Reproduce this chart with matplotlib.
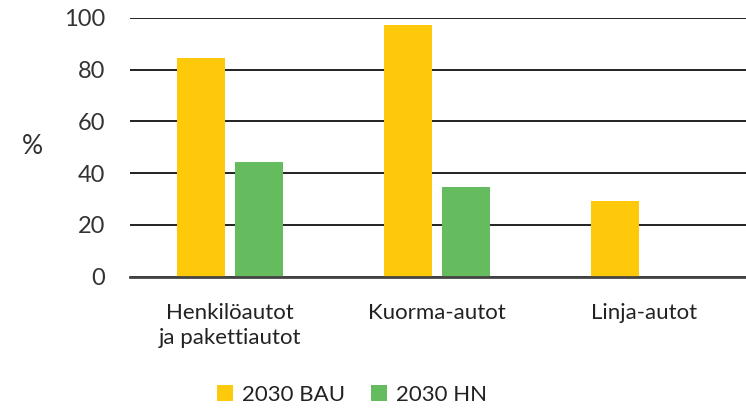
import matplotlib.pyplot as plt
import numpy as np

plt.rcParams['font.family'] = ['Lato', 'DejaVu Sans']

categories = ['Henkilöautot\nja pakettiautot', 'Kuorma-autot', 'Linja-autot']
bau = [84.5, 97.3, 29.3]
hn = [44.3, 34.7, 0]
series_names = ['2030 BAU', '2030 HN']
colors = ['#FEC90A', '#64BC5F']

W, H = 746, 411
fig = plt.figure(figsize=(W / 100, H / 100), dpi=100)
ax = fig.add_axes([130 / W, 1 - 276.7 / H, 616 / W, (276.7 - 18) / H])

x = np.arange(len(categories))
bw = 0.232
ax.bar(x - 0.14, bau, bw, color=colors[0], label=series_names[0], zorder=3)
ax.bar(x + 0.14, hn, bw, color=colors[1], label=series_names[1], zorder=3)

ax.set_xlim(-0.483, 2.493)
ax.set_ylim(0, 100)
ax.set_yticks(range(0, 101, 20))
ax.yaxis.grid(True, color='#222222', linewidth=1.4, zorder=1)
ax.tick_params(axis='y', length=0, pad=18, labelsize=17, labelcolor='#333333')
ax.tick_params(axis='x', length=0, pad=19, labelsize=16, labelcolor='#222222')
ax.set_xticks(x)
ax.set_xticklabels(categories, linespacing=1.3)
for s in ['top', 'right', 'left']:
    ax.spines[s].set_visible(False)
ax.spines['bottom'].set_color('#444444')
ax.spines['bottom'].set_linewidth(2)
ax.spines['bottom'].set_zorder(4)

fig.text(32 / W, 1 - 146 / H, '%', fontsize=19, color='#333333', ha='center', va='center')

fig.legend(loc='center', bbox_to_anchor=(352 / W, 1 - 395 / H), ncol=2, frameon=False,
           fontsize=16, handlelength=0.7, handleheight=0.7, handletextpad=0.4,
           columnspacing=1.2, labelcolor='#222222')

fig.savefig('out.png', dpi=100)
